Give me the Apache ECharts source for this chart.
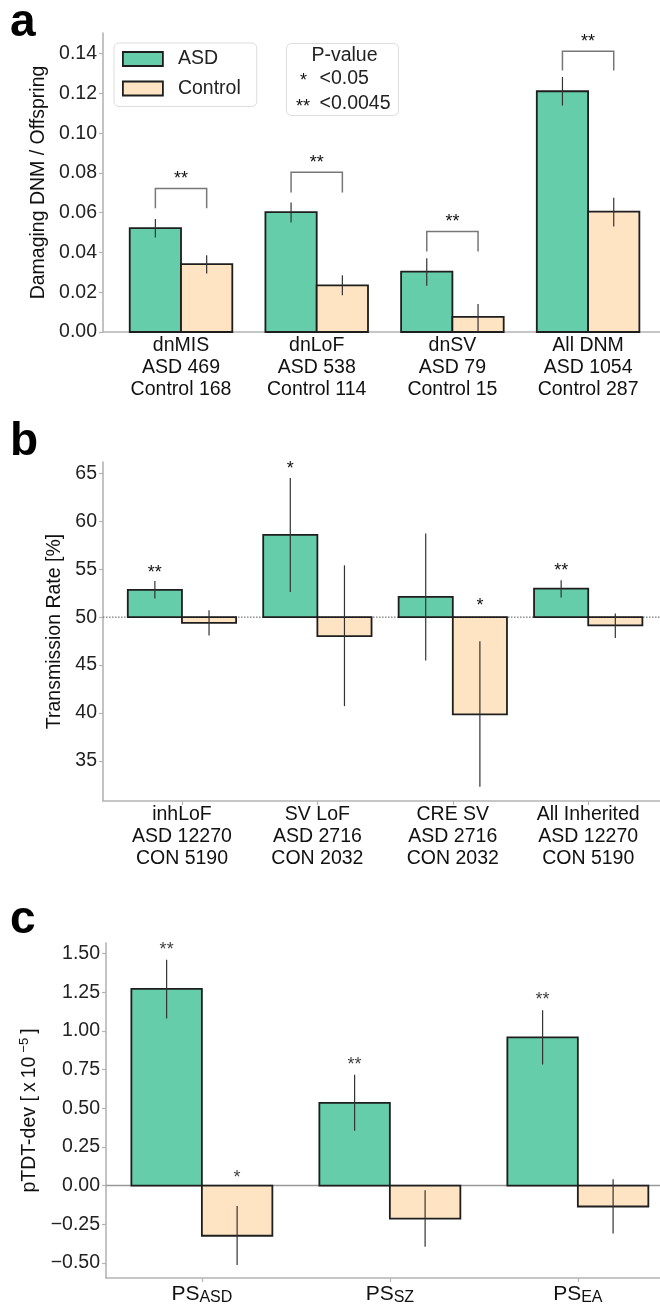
<!DOCTYPE html>
<html>
<head>
<meta charset="utf-8">
<script src="https://cdn.jsdelivr.net/npm/echarts@6/dist/echarts.min.js"></script>
<style>
html, body { margin: 0; padding: 0; background: #fff; }
#main { width: 660px; height: 1309px; }
</style>
</head>
<body>
<div id="main"></div>
<script>
var FONT = '"Liberation Sans", Arial, sans-serif';
var GREEN = '#66cdaa';
var PEACH = '#ffe4c4';
var AXIS = '#b4b4b4';

// ---- panel a : de novo ----
var dnmCats = ['dnMIS\nASD 469\nControl 168', 'dnLoF\nASD 538\nControl 114', 'dnSV\nASD 79\nControl 15', 'All DNM\nASD 1054\nControl 287'];
var dnmAsd = [0.0522, 0.0603, 0.0304, 0.1211];
var dnmAsdLo = [0.0475, 0.0551, 0.0233, 0.1139];
var dnmAsdHi = [0.0568, 0.0651, 0.0371, 0.1283];
var dnmCon = [0.0341, 0.0235, 0.0076, 0.0605];
var dnmConLo = [0.0294, 0.0185, 0.0000, 0.0531];
var dnmConHi = [0.0386, 0.0286, 0.0141, 0.0675];
var bracketLow = [0.0623, 0.0702, 0.0405, 0.1315];
var bracketTop = [0.0722, 0.0803, 0.0505, 0.1412];
var bracketStarY = [0.0787, 0.0868, 0.0569, 0.1476];
var bracketStars = ['**', '**', '**', '**'];
var dnmTicks = [0, 0.02, 0.04, 0.06, 0.08, 0.10, 0.12, 0.14];

// ---- panel b : transmission ----
var inhCats = ['inhLoF\nASD 12270\nCON 5190', 'SV LoF\nASD 2716\nCON 2032', 'CRE SV\nASD 2716\nCON 2032', 'All Inherited\nASD 12270\nCON 5190'];
var inhAsd = [52.84, 58.59, 52.11, 52.98];
var inhAsdLo = [51.94, 52.63, 45.46, 52.04];
var inhAsdHi = [53.78, 64.52, 58.73, 53.85];
var inhCon = [49.41, 48.02, 39.85, 49.13];
var inhConLo = [48.09, 40.71, 32.29, 47.82];
var inhConHi = [50.73, 55.41, 47.47, 50.38];
// [category, side (-1 ASD / 1 control), y, text]
var inhStars = [[0, -1, 54.99, '**'], [1, -1, 65.84, '*'], [2, 1, 51.56, '*'], [3, -1, 55.13, '**']];
var inhTicks = [35, 40, 45, 50, 55, 60, 65];

// ---- panel c : pTDT ----
var psSubs = ['ASD', 'SZ', 'EA'];
var psAsd = [1.271, 0.535, 0.958];
var psAsdLo = [1.080, 0.354, 0.782];
var psAsdHi = [1.460, 0.717, 1.134];
var psCon = [-0.324, -0.213, -0.135];
var psConLo = [-0.513, -0.395, -0.309];
var psConHi = [-0.131, -0.030, 0.041];
var psStars = [[0, -1, 1.544, '**'], [0, 1, 0.071, '*'], [1, -1, 0.801, '**'], [2, -1, 1.220, '**']];
var psTicks = [-0.5, -0.25, 0, 0.25, 0.5, 0.75, 1.0, 1.25, 1.5];

var xRange = [[-0.575, 3.53], [-0.583, 3.53], [-0.51, 2.437]];
var barW = [0.378, 0.40, 0.375];

var myChart = echarts.init(document.getElementById('main'), null, { renderer: 'canvas' });

function barSeries(name, k, vals, lo, hi, side, base, color) {
  var w = barW[k];
  return {
    type: 'custom', name: name, xAxisIndex: k, yAxisIndex: k, z: 3,
    itemStyle: { color: color },
    data: vals.map(function (v, i) { return [i, v, lo[i], hi[i]]; }),
    renderItem: function (params, api) {
      var i = api.value(0);
      var x0 = side < 0 ? i - w : i;
      var x1 = side < 0 ? i : i + w;
      var p0 = api.coord([x0, base]);
      var p1 = api.coord([x1, api.value(1)]);
      var e0 = api.coord([i + side * w / 2, api.value(2)]);
      var e1 = api.coord([i + side * w / 2, api.value(3)]);
      return {
        type: 'group',
        children: [
          { type: 'rect',
            shape: { x: Math.min(p0[0], p1[0]), y: Math.min(p0[1], p1[1]),
                     width: Math.abs(p1[0] - p0[0]), height: Math.abs(p1[1] - p0[1]) },
            style: { fill: color, stroke: '#1e1e1e', lineWidth: 1.8 } },
          { type: 'line',
            shape: { x1: e0[0], y1: e0[1], x2: e1[0], y2: e1[1] },
            style: { stroke: '#333', lineWidth: 1.2 } }
        ]
      };
    }
  };
}

function starSeries(k, stars, color) {
  var w = barW[k];
  return {
    type: 'custom', xAxisIndex: k, yAxisIndex: k, z: 4, silent: true,
    data: stars,
    renderItem: function (params, api) {
      var s = stars[params.dataIndex];
      var p = api.coord([s[0] + s[1] * w / 2, s[2]]);
      return { type: 'text', x: p[0], y: p[1] + 3.5,
        style: { text: s[3], align: 'center', verticalAlign: 'middle', fill: color,
                 fontSize: 18, fontFamily: FONT } };
    }
  };
}

function numFmt(d) {
  return function (v) { return v.toFixed(d).replace('-', '\u2212'); };
}

function yAxis(k, min, max, ticks, dec, name, gap, nameObj) {
  return {
    type: 'value', gridIndex: k, min: min, max: max,
    name: name, nameLocation: 'middle', nameGap: gap,
    nameTextStyle: nameObj || { fontSize: 19.5, fontFamily: FONT, color: '#111' },
    axisLine: { show: true, onZero: false, lineStyle: { color: AXIS, width: 1.6 } },
    axisTick: { show: true, length: 4, customValues: ticks, lineStyle: { color: AXIS, width: 1.2 } },
    axisLabel: { customValues: ticks, formatter: numFmt(dec), fontSize: 19.5, fontFamily: FONT,
                 color: '#222', margin: 6 },
    splitLine: { show: false }
  };
}

function xAxis(k, cats, showTick, label) {
  var idx = cats.map(function (c, i) { return i; });
  return {
    type: 'value', gridIndex: k, min: xRange[k][0], max: xRange[k][1],
    axisLine: { show: true, onZero: false, lineStyle: { color: AXIS, width: 1.6 } },
    axisTick: { show: showTick, length: 4, customValues: idx, lineStyle: { color: AXIS, width: 1.2 } },
    axisLabel: label || { customValues: idx, formatter: function (v) { return cats[Math.round(v)]; },
                 fontSize: 19.5, lineHeight: 21.7, fontFamily: FONT, color: '#111', margin: 3 },
    splitLine: { show: false }
  };
}

var psLabel = {
  customValues: [0, 1, 2],
  formatter: function (v) { return '{m|PS}{s|' + psSubs[Math.round(v)] + '}'; },
  margin: 4,
  rich: {
    m: { fontSize: 21, lineHeight: 24, fontFamily: FONT, color: '#111' },
    s: { fontSize: 16, lineHeight: 14, verticalAlign: 'bottom', fontFamily: FONT, color: '#111' }
  }
};

var option = {
  animation: false,
  backgroundColor: '#fff',
  grid: [
    { left: 103, top: 33, width: 557, height: 299 },
    { left: 103, top: 462, width: 557, height: 339 },
    { left: 106, top: 943, width: 554, height: 335 }
  ],
  legend: {
    data: [
      { name: 'ASD', itemStyle: { color: GREEN, borderColor: '#1e1e1e', borderWidth: 1.8 } },
      { name: 'Control', itemStyle: { color: PEACH, borderColor: '#1e1e1e', borderWidth: 1.8 } }
    ],
    orient: 'vertical', left: 114, top: 43, icon: 'rect',
    itemWidth: 40, itemHeight: 14, itemGap: 7.5, selectedMode: false,
    padding: [5, 16, 7, 8],
    backgroundColor: '#fff', borderColor: '#dddddd', borderWidth: 1, borderRadius: 5,
    textStyle: { fontSize: 19.5, lineHeight: 22, fontFamily: FONT, color: '#222', padding: [0, 0, 0, 10] }
  },
  xAxis: [
    xAxis(0, dnmCats, false),
    xAxis(1, inhCats, true),
    xAxis(2, psSubs, true, psLabel)
  ],
  yAxis: [
    yAxis(0, 0, 0.1504, dnmTicks, 2, 'Damaging DNM / Offspring', 54),
    yAxis(1, 30.8, 66.2, inhTicks, 0, 'Transmission Rate [%]', 37),
    yAxis(2, -0.597, 1.568, psTicks, 2, '{n|pTDT-dev [}{g|x}{g|10}{p|\u22125}{n|]}', 64, {
      fontFamily: FONT, color: '#111',
      rich: {
        n: { fontSize: 19.5, lineHeight: 24, fontFamily: FONT, color: '#111' },
        g: { fontSize: 19.5, lineHeight: 24, fontFamily: FONT, color: '#111', padding: [0, 0, 0, 4] },
        p: { fontSize: 13, lineHeight: 12, verticalAlign: 'top', fontFamily: FONT, color: '#111', padding: [0, 4, 0, 4] }
      }
    })
  ],
  series: [
    // reference lines
    { type: 'line', xAxisIndex: 1, yAxisIndex: 1, silent: true, symbol: 'none', z: 1,
      data: [[xRange[1][0], 50], [xRange[1][1], 50]],
      lineStyle: { color: '#555', width: 1, type: [1.5, 1.5] } },
    { type: 'line', xAxisIndex: 2, yAxisIndex: 2, silent: true, symbol: 'none', z: 1,
      data: [[xRange[2][0], 0], [xRange[2][1], 0]],
      lineStyle: { color: '#999', width: 1.5 } },

    barSeries('ASD', 0, dnmAsd, dnmAsdLo, dnmAsdHi, -1, 0, GREEN),
    barSeries('Control', 0, dnmCon, dnmConLo, dnmConHi, 1, 0, PEACH),
    barSeries('ASD', 1, inhAsd, inhAsdLo, inhAsdHi, -1, 50, GREEN),
    barSeries('Control', 1, inhCon, inhConLo, inhConHi, 1, 50, PEACH),
    barSeries('ASD', 2, psAsd, psAsdLo, psAsdHi, -1, 0, GREEN),
    barSeries('Control', 2, psCon, psConLo, psConHi, 1, 0, PEACH),

    // significance brackets, panel a
    {
      type: 'custom', xAxisIndex: 0, yAxisIndex: 0, z: 4, silent: true,
      data: bracketTop.map(function (t, i) { return [i, bracketLow[i], t, bracketStarY[i]]; }),
      renderItem: function (params, api) {
        var i = api.value(0), w = barW[0];
        var a = api.coord([i - w / 2, api.value(1)]);
        var b = api.coord([i - w / 2, api.value(2)]);
        var c = api.coord([i + w / 2, api.value(2)]);
        var d = api.coord([i + w / 2, api.value(1)]);
        var s = api.coord([i, api.value(3)]);
        return {
          type: 'group',
          children: [
            { type: 'polyline', shape: { points: [a, b, c, d] },
              style: { stroke: '#777', lineWidth: 1.5, fill: null } },
            { type: 'text', x: s[0], y: s[1] + 3.5,
              style: { text: bracketStars[params.dataIndex], align: 'center', verticalAlign: 'middle',
                       fill: '#111', fontSize: 18, fontFamily: FONT } }
          ]
        };
      }
    },
    starSeries(1, inhStars, '#111'),
    starSeries(2, psStars, '#444')
  ],
  graphic: [
    { type: 'text', left: 10, top: 0, style: { text: 'a', fontSize: 46, fontWeight: 'bold', fontFamily: FONT, fill: '#000' } },
    { type: 'text', left: 10, top: 419, style: { text: 'b', fontSize: 46, fontWeight: 'bold', fontFamily: FONT, fill: '#000' } },
    { type: 'text', left: 10, top: 897, style: { text: 'c', fontSize: 46, fontWeight: 'bold', fontFamily: FONT, fill: '#000' } },
    {
      type: 'group', left: 286, top: 43,
      children: [
        { type: 'rect', shape: { x: 0, y: 0, width: 112, height: 72, r: 5 },
          style: { fill: '#fff', stroke: '#dddddd', lineWidth: 1 } },
        { type: 'text', x: 58, y: 12, style: { text: 'P-value', align: 'center', verticalAlign: 'middle', fontSize: 19.5, fontFamily: FONT, fill: '#222' } },
        { type: 'text', x: 17, y: 38, style: { text: '*', align: 'center', verticalAlign: 'middle', fontSize: 18, fontFamily: FONT, fill: '#111' } },
        { type: 'text', x: 33, y: 35, style: { text: '<0.05', align: 'left', verticalAlign: 'middle', fontSize: 19.5, fontFamily: FONT, fill: '#222' } },
        { type: 'text', x: 16.5, y: 64, style: { text: '**', align: 'center', verticalAlign: 'middle', fontSize: 18, fontFamily: FONT, fill: '#111' } },
        { type: 'text', x: 33, y: 60, style: { text: '<0.0045', align: 'left', verticalAlign: 'middle', fontSize: 19.5, fontFamily: FONT, fill: '#222' } }
      ]
    }
  ]
};

myChart.setOption(option);
window.onresize = function () {
  myChart.resize();
};
</script>
</body>
</html>
